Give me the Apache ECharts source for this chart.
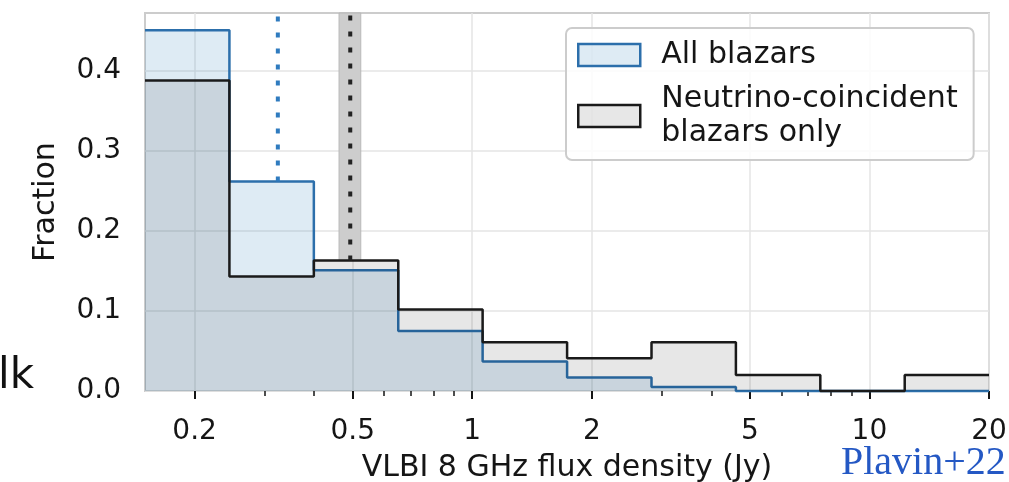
<!DOCTYPE html>
<html>
<head>
<meta charset="utf-8">
<script src="https://cdn.jsdelivr.net/npm/echarts@6/dist/echarts.min.js"></script>
<style>
  html, body { margin: 0; padding: 0; background: #ffffff; }
  #chart { width: 1009px; height: 482px; }
</style>
</head>
<body>
<div id="chart"></div>
<script>
// Histogram bin edges (Jy): ten log-spaced bins
const binEdges = [0.15, 0.2447, 0.3992, 0.6512, 1.062, 1.733, 2.827, 4.611, 7.522, 12.27, 20];
// Fraction of sources falling in each bin
const allBlazars = [0.451, 0.262, 0.151, 0.075, 0.037, 0.017, 0.005, 0.0, 0.0, 0.0];
const neutrinoBlazars = [0.388, 0.143, 0.163, 0.102, 0.061, 0.041, 0.061, 0.020, 0.0, 0.020];
const seriesNames = ['All blazars', 'Neutrino-coincident\nblazars only'];
// Median flux densities (Jy) and the spread around the neutrino median
const allMedian = 0.324;
const neutrinoMedian = 0.493;
const neutrinoMedianBand = [0.462, 0.524];
// Axis ticks
const majorTicks = [0.2, 0.5, 1, 2, 5, 10, 20];
const minorTicks = [0.3, 0.4, 0.6, 0.7, 0.8, 0.9, 3, 4, 6, 7, 8, 9];
const yTicks = [0, 0.1, 0.2, 0.3, 0.4];
const xRange = [0.15, 20];
const yMax = 0.4725;

const FONT = 'DejaVu Sans';
const INK = '#151515';
const BLUE_LINE = '#2c6fab';
const BLUE_FILL = 'rgba(31,119,180,0.15)';
const GREY_FILL = 'rgba(0,0,0,0.095)';
const lg = Math.log10;

// Step outline: each bin value starts at its left edge; the last value is repeated at the right edge
function stepData(values) {
  return binEdges.map((e, i) => [lg(e), values[Math.min(i, values.length - 1)]]);
}

function tickLabel(v) {
  const t = majorTicks.find(m => Math.abs(lg(m) - v) < 1e-6);
  return t === undefined ? '' : String(t);
}

const chart = echarts.init(document.getElementById('chart'), null, { renderer: 'canvas' });

const option = {
  animation: false,
  backgroundColor: '#ffffff',
  textStyle: { fontFamily: FONT },
  grid: {
    left: 145, right: 20, top: 13, bottom: 91,
    outerBoundsMode: 'none', containLabel: false,
    show: true, borderColor: '#cccccc', borderWidth: 2, backgroundColor: 'transparent'
  },
  legend: {
    orient: 'vertical',
    left: 566, top: 28,
    padding: [10, 16, 10, 11],
    itemGap: 10,
    itemWidth: 62, itemHeight: 22,
    icon: 'rect',
    backgroundColor: 'rgba(255,255,255,0.85)',
    borderColor: '#cccccc', borderWidth: 2, borderRadius: 6,
    selectedMode: false,
    textStyle: { fontFamily: FONT, fontSize: 30, color: INK, lineHeight: 34, padding: [0, 0, 0, 16] },
    data: [
      { name: seriesNames[0], itemStyle: { color: BLUE_FILL, borderColor: BLUE_LINE, borderWidth: 2.5 } },
      { name: seriesNames[1], itemStyle: { color: GREY_FILL, borderColor: '#1a1a1a', borderWidth: 2.5 } }
    ]
  },
  xAxis: [
    {
      type: 'value', min: lg(xRange[0]), max: lg(xRange[1]),
      name: 'VLBI 8 GHz flux density (Jy)', nameLocation: 'middle', nameGap: 62,
      nameTextStyle: { fontFamily: FONT, fontSize: 30, color: INK },
      axisLine: { show: false },
      axisTick: { show: true, length: 8, customValues: majorTicks.map(lg), lineStyle: { color: INK, width: 2 } },
      axisLabel: { show: true, margin: 27, customValues: majorTicks.map(lg), formatter: tickLabel,
        fontFamily: FONT, fontSize: 28, color: INK },
      splitLine: { show: true, lineStyle: { color: '#e4e4e4', width: 1.5 } }
    },
    {
      type: 'value', min: lg(xRange[0]), max: lg(xRange[1]), position: 'bottom',
      axisLine: { show: false },
      axisTick: { show: true, length: 5, customValues: minorTicks.map(lg), lineStyle: { color: INK, width: 1.5 } },
      axisLabel: { show: false },
      splitLine: { show: false }
    }
  ],
  yAxis: {
    type: 'value', min: 0, max: yMax, interval: 0.1,
    name: 'Fraction', nameLocation: 'middle', nameGap: 84,
    nameTextStyle: { fontFamily: FONT, fontSize: 30, color: INK },
    axisLine: { show: false },
    axisTick: { show: false, customValues: yTicks },
    axisLabel: { margin: 24, customValues: yTicks, formatter: v => v.toFixed(1),
      fontFamily: FONT, fontSize: 28, color: INK },
    splitLine: { show: true, lineStyle: { color: '#e4e4e4', width: 1.5 } }
  },
  graphic: [
    { type: 'text', left: -2, top: 356, style: { text: 'lk', fontFamily: FONT, fontSize: 42, fill: '#111' } },
    { type: 'text', left: 841, top: 443, style: { text: 'Plavin+22', fontFamily: 'Liberation Serif', fontSize: 40, fill: '#2458c4' } }
  ],
  series: [
    {
      name: seriesNames[0], type: 'line', step: 'end', xAxisIndex: 0,
      data: stepData(allBlazars), showSymbol: false, symbol: 'none', clip: false,
      lineStyle: { color: BLUE_LINE, width: 2.5 },
      itemStyle: { color: BLUE_LINE },
      areaStyle: { color: BLUE_FILL, opacity: 1, origin: 'start' },
      z: 2
    },
    {
      name: seriesNames[1], type: 'line', step: 'end', xAxisIndex: 0,
      data: stepData(neutrinoBlazars), showSymbol: false, symbol: 'none', clip: false,
      lineStyle: { color: '#1a1a1a', width: 2.5 },
      itemStyle: { color: '#1a1a1a' },
      areaStyle: { color: GREY_FILL, opacity: 1, origin: 'start' },
      z: 3
    },
    {
      name: 'allMedian', type: 'line', xAxisIndex: 0,
      data: [[lg(allMedian), allBlazars[1]], [lg(allMedian), yMax]],
      showSymbol: false, symbol: 'none',
      lineStyle: { color: '#2f7bbf', width: 4, type: [5, 11] },
      z: 4
    },
    {
      name: 'neutrinoMedian', type: 'line', xAxisIndex: 0,
      data: [[lg(neutrinoMedian), neutrinoBlazars[2]], [lg(neutrinoMedian), yMax]],
      showSymbol: false, symbol: 'none',
      lineStyle: { color: '#222222', width: 4, type: [5, 11] },
      markArea: {
        silent: true,
        itemStyle: { color: '#cdcdcd', borderColor: '#b8b8b8', borderWidth: 1 },
        data: [[
          { xAxis: lg(neutrinoMedianBand[0]), yAxis: neutrinoBlazars[2] },
          { xAxis: lg(neutrinoMedianBand[1]), yAxis: yMax }
        ]]
      },
      z: 4
    }
  ]
};

chart.setOption(option);
</script>
</body>
</html>
